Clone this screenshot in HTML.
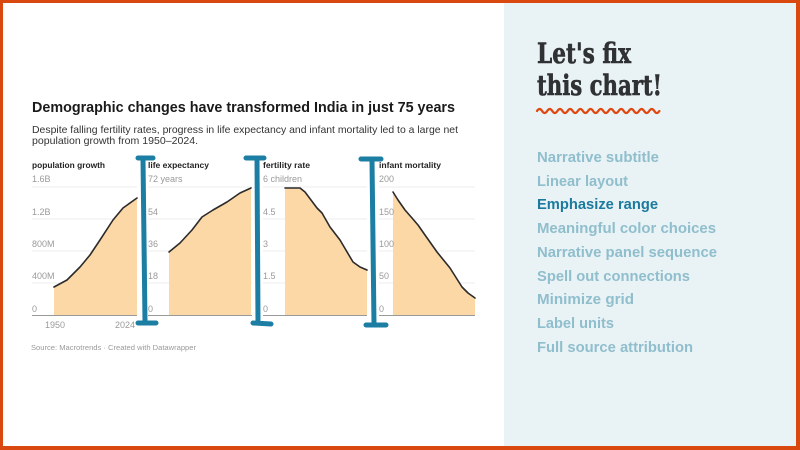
<!DOCTYPE html>
<html><head><meta charset="utf-8"><style>
html,body{margin:0;padding:0;background:#fff;}
svg{display:block;}
</style></head><body>
<svg width="800" height="450" viewBox="0 0 800 450" xmlns="http://www.w3.org/2000/svg">
<rect x="0" y="0" width="800" height="450" fill="#d9480f"/>
<rect x="3" y="3" width="793" height="443" fill="#ffffff"/>
<rect x="504" y="3" width="292" height="443" fill="#e9f2f5"/>

<!-- Chart title -->
<text x="32" y="112" font-family="Liberation Sans, sans-serif" font-weight="bold" font-size="14.5" fill="#1a1a1a" textLength="423" lengthAdjust="spacingAndGlyphs">Demographic changes have transformed India in just 75 years</text>
<text x="32" y="133" font-family="Liberation Sans, sans-serif" font-size="10.5" fill="#333" textLength="426" lengthAdjust="spacingAndGlyphs">Despite falling fertility rates, progress in life expectancy and infant mortality led to a large net</text>
<text x="32" y="144" font-family="Liberation Sans, sans-serif" font-size="10.5" fill="#333" textLength="166" lengthAdjust="spacingAndGlyphs">population growth from 1950–2024.</text>

<g font-family="Liberation Sans, sans-serif">
<!-- panel labels -->
<text x="32" y="168" font-size="8.5" font-weight="bold" fill="#222" textLength="73" lengthAdjust="spacingAndGlyphs">population growth</text>
<text x="148" y="168" font-size="8.5" font-weight="bold" fill="#222" textLength="61" lengthAdjust="spacingAndGlyphs">life expectancy</text>
<text x="263" y="168" font-size="8.5" font-weight="bold" fill="#222" textLength="47" lengthAdjust="spacingAndGlyphs">fertility rate</text>
<text x="379" y="168" font-size="8.5" font-weight="bold" fill="#222" textLength="62" lengthAdjust="spacingAndGlyphs">infant mortality</text>

<!-- gridlines -->
<g stroke="#e6e6e6" stroke-width="0.8">
<line x1="32" y1="187" x2="137" y2="187"/><line x1="32" y1="219" x2="137" y2="219"/><line x1="32" y1="251" x2="137" y2="251"/><line x1="32" y1="283" x2="137" y2="283"/>
<line x1="148" y1="187" x2="252" y2="187"/><line x1="148" y1="219" x2="252" y2="219"/><line x1="148" y1="251" x2="252" y2="251"/><line x1="148" y1="283" x2="252" y2="283"/>
<line x1="263" y1="187" x2="367" y2="187"/><line x1="263" y1="219" x2="367" y2="219"/><line x1="263" y1="251" x2="367" y2="251"/><line x1="263" y1="283" x2="367" y2="283"/>
<line x1="379" y1="187" x2="475" y2="187"/><line x1="379" y1="219" x2="475" y2="219"/><line x1="379" y1="251" x2="475" y2="251"/><line x1="379" y1="283" x2="475" y2="283"/>
</g>

<!-- areas -->
<g fill="#fcd8a6">
<path d="M54,287 L67,280 L80,267 L90,255 L100,240 L113,220 L123,208 L137,198 L137,315 L54,315 Z"/>
<path d="M169,252 L180,243 L192,230 L202,217 L213,210 L227,202 L240,193 L251,188 L251,315 L169,315 Z"/>
<path d="M285,188 L300,188 L305,192 L317,208 L322,213 L330,227 L340,240 L353,262 L360,267 L367,270 L367,315 L285,315 Z"/>
<path d="M393,192 L398,200 L405,210 L412,218 L418,225 L425,235 L437,252 L450,268 L462,287 L468,293 L475,298 L475,315 L393,315 Z"/>
</g>
<g fill="none" stroke="#2b2b2b" stroke-width="1.6" stroke-linejoin="round" stroke-linecap="round">
<path d="M54,287 L67,280 L80,267 L90,255 L100,240 L113,220 L123,208 L137,198"/>
<path d="M169,252 L180,243 L192,230 L202,217 L213,210 L227,202 L240,193 L251,188"/>
<path d="M285,188 L300,188 L305,192 L317,208 L322,213 L330,227 L340,240 L353,262 L360,267 L367,270"/>
<path d="M393,192 L398,200 L405,210 L412,218 L418,225 L425,235 L437,252 L450,268 L462,287 L468,293 L475,298"/>
</g>

<!-- baselines -->
<g stroke="#999" stroke-width="1">
<line x1="32" y1="315.5" x2="137" y2="315.5"/>
<line x1="148" y1="315.5" x2="252" y2="315.5"/>
<line x1="263" y1="315.5" x2="367" y2="315.5"/>
<line x1="379" y1="315.5" x2="475" y2="315.5"/>
</g>

<!-- tick labels -->
<g font-size="9" fill="#9a9a9a">
<text x="32" y="182">1.6B</text><text x="32" y="215">1.2B</text><text x="32" y="247">800M</text><text x="32" y="279">400M</text><text x="32" y="312">0</text>
<text x="148" y="182">72 years</text><text x="148" y="215">54</text><text x="148" y="247">36</text><text x="148" y="279">18</text><text x="148" y="312">0</text>
<text x="263" y="182">6 children</text><text x="263" y="215">4.5</text><text x="263" y="247">3</text><text x="263" y="279">1.5</text><text x="263" y="312">0</text>
<text x="379" y="182">200</text><text x="379" y="215">150</text><text x="379" y="247">100</text><text x="379" y="279">50</text><text x="379" y="312">0</text>
<text x="45" y="328">1950</text><text x="115" y="328">2024</text>
</g>
<text x="31" y="350" font-size="7" fill="#9a9a9a" textLength="165" lengthAdjust="spacingAndGlyphs">Source: Macrotrends · Created with Datawrapper</text>
</g>

<!-- brackets -->
<g fill="none" stroke="#1c7ea3" stroke-width="5" stroke-linecap="round">
<path d="M138,158 L153,158 M143,159 L145,322 M138,323 L156,323"/>
<path d="M246,158 L264,158 M257,159 L258,322 M253,323 L271,324"/>
<path d="M361,159 L381,159 M372,160 L374,324 M366,325 L386,325"/>
</g>

<!-- right panel -->
<g font-family="DejaVu Serif, Liberation Serif, serif" font-weight="bold" fill="#2f3133" stroke="#2f3133" stroke-width="0.6">
<text x="537" y="63" font-size="28" textLength="94" lengthAdjust="spacingAndGlyphs">Let's fix</text>
<text x="537" y="95" font-size="28" textLength="125" lengthAdjust="spacingAndGlyphs">this chart!</text>
</g>
<path d="M537,111 q2.6,-4 5.1,0 t5.1,0 t5.1,0 t5.1,0 t5.1,0 t5.1,0 t5.1,0 t5.1,0 t5.1,0 t5.1,0 t5.1,0 t5.1,0 t5.1,0 t5.1,0 t5.1,0 t5.1,0 t5.1,0 t5.1,0 t5.1,0 t5.1,0 t5.1,0 t5.1,0 t5.1,0 t5.1,0" fill="none" stroke="#e0470f" stroke-width="2.2" stroke-linecap="round"/>

<g font-family="Liberation Sans, sans-serif" font-weight="bold" font-size="14.5" fill="#8fbecd">
<text x="537" y="162" textLength="122" lengthAdjust="spacingAndGlyphs">Narrative subtitle</text>
<text x="537" y="186" textLength="91" lengthAdjust="spacingAndGlyphs">Linear layout</text>
<text x="537" y="209" textLength="121" lengthAdjust="spacingAndGlyphs" fill="#1b7a9e">Emphasize range</text>
<text x="537" y="233" textLength="179" lengthAdjust="spacingAndGlyphs">Meaningful color choices</text>
<text x="537" y="257" textLength="180" lengthAdjust="spacingAndGlyphs">Narrative panel sequence</text>
<text x="537" y="281" textLength="153" lengthAdjust="spacingAndGlyphs">Spell out connections</text>
<text x="537" y="304" textLength="97" lengthAdjust="spacingAndGlyphs">Minimize grid</text>
<text x="537" y="328" textLength="77" lengthAdjust="spacingAndGlyphs">Label units</text>
<text x="537" y="352" textLength="156" lengthAdjust="spacingAndGlyphs">Full source attribution</text>
</g>
</svg>
</body></html>
